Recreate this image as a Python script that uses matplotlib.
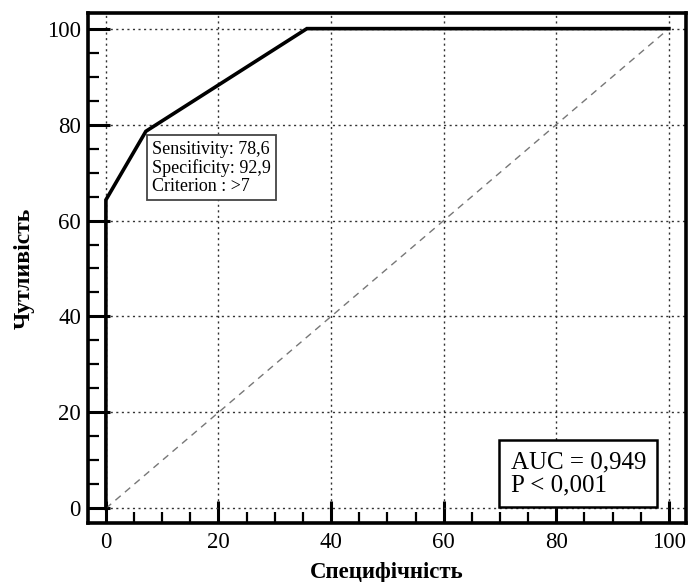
import matplotlib.pyplot as plt
from matplotlib.ticker import MultipleLocator

# ROC curve points (100 - specificity, sensitivity)
fpr = [0, 0, 7.1, 35.7, 100]
tpr = [0, 64.3, 78.6, 100, 100]
ref_x = [0, 100]
ref_y = [0, 100]
ticks = [0, 20, 40, 60, 80, 100]

cut_text = "Sensitivity: 78,6\nSpecificity: 92,9\nCriterion : >7"
auc_text = "AUC = 0,949\nP < 0,001"

plt.rcParams['font.family'] = ['Liberation Serif', 'DejaVu Serif']

fig = plt.figure(figsize=(6.92, 5.82), dpi=100)
ax = fig.add_axes([0.127, 0.101, 0.864, 0.877])

ax.plot(ref_x, ref_y, color='#777777', lw=1.0, ls=(0, (5, 4)), zorder=2)
ax.plot(fpr, tpr, color='black', lw=2.6, solid_joinstyle='miter', zorder=3)

ax.set_xlim(-3.2, 103.0)
ax.set_ylim(-3.1, 103.3)
ax.set_xticks(ticks)
ax.set_yticks(ticks)
ax.xaxis.set_minor_locator(MultipleLocator(5))
ax.yaxis.set_minor_locator(MultipleLocator(5))
ax.tick_params(which='major', direction='in', length=16, width=2.2, labelsize=16.5, pad=6,
               top=False, right=False)
ax.tick_params(axis='y', which='major', pad=5)
ax.tick_params(which='minor', direction='in', length=8, width=1.6, top=False, right=False)
ax.grid(True, which='major', color='#333333', ls=(0, (1.5, 2.5)), lw=1.0)

for s in ax.spines.values():
    s.set_linewidth(2.6)

ax.set_xlabel('Специфічність', fontsize=16.5, fontweight='bold', labelpad=7)
ax.set_ylabel('Чутливість', fontsize=17, fontweight='bold', labelpad=9)

ax.text(8.2, 76.6, cut_text, fontsize=13, va='top', ha='left', linespacing=1.08,
        bbox=dict(boxstyle='square,pad=0.3', fc='white', ec='#444444', lw=1.3), zorder=4)
ax.text(71.9, 11.9, auc_text, fontsize=18, va='top', ha='left', linespacing=1.05,
        bbox=dict(boxstyle='square,pad=0.45', fc='white', ec='black', lw=1.8), zorder=4)

fig.savefig('out.png', dpi=100)
